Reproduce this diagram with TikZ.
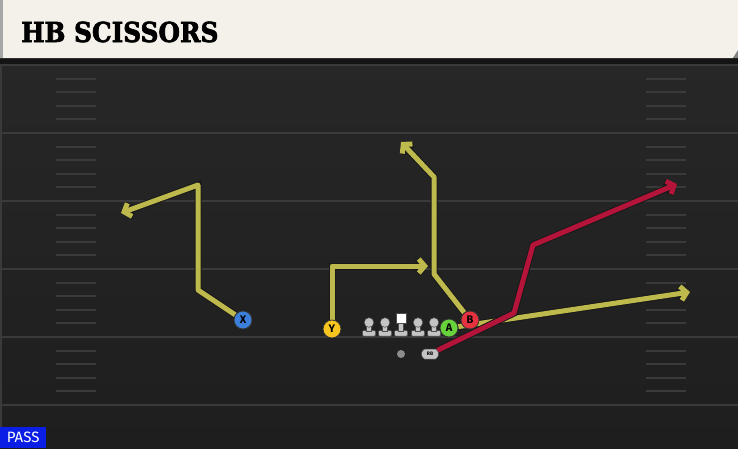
\documentclass[tikz,border=0pt]{standalone}
\usepackage{fontspec}
\setmainfont{Fira Sans}
\newfontfamily\titlefont{DejaVu Serif}[BoldFeatures={FakeBold=2.5}]
\usetikzlibrary{arrows.meta, shapes.misc}
\definecolor{fieldtop}{HTML}{272727}
\definecolor{fieldbot}{HTML}{1E1E1E}
\definecolor{yardline}{HTML}{3A3A3A}
\definecolor{paper}{HTML}{F4F1EA}
\definecolor{routeyellow}{HTML}{BEB94C}
\definecolor{routered}{HTML}{B4143A}
\definecolor{xblue}{HTML}{3C7FDA}
\definecolor{yyellow}{HTML}{F6C51F}
\definecolor{agreen}{HTML}{68D23C}
\definecolor{bred}{HTML}{E6323E}
\definecolor{linegrey}{HTML}{C4C4C4}
\definecolor{passblue}{HTML}{0A1EE6}
\pgfdeclarelayer{bg}
\pgfdeclarelayer{routes}
\pgfsetlayers{bg,routes,main}

\begin{document}
\begin{tikzpicture}[x=1pt, y=-1pt,
		player/.style = {circle, draw=black!80, line width=0.8pt, minimum size=18pt, inner sep=0pt, font=\bfseries\fontsize{11}{11}\selectfont},
		route/.style = {line width=5pt, line join=round, -{Straight Barb[length=6pt, width=14pt]},
			preaction = {draw=black!90, line width=7pt, -{Straight Barb[length=6pt, width=14pt]}}},
	]
			\def\xMIN{0};
			\def\xMAX{738};
			\def\yMIN{0};
			\def\yMAX{448};

			\useasboundingbox (\xMIN,\yMIN) rectangle (\xMAX,\yMAX);

			% field
			\begin{pgfonlayer}{bg}
				\shade[top color=fieldtop, bottom color=fieldbot] (\xMIN,60) rectangle (\xMAX,\yMAX);
				\fill[yardline] (\xMIN,60) rectangle (2,\yMAX);
				\foreach \i in {0,...,5}
					\draw[yardline, line width=2pt] (2,65+68*\i) -- (\xMAX,65+68*\i);
				\foreach \i in {0,...,4} {
					\foreach \k in {1,...,4} {
						\draw[yardline, line width=2pt] (56,65+68*\i+13.6*\k) -- (96,65+68*\i+13.6*\k);
						\draw[yardline, line width=2pt] (646,65+68*\i+13.6*\k) -- (686,65+68*\i+13.6*\k);
					}
				}

				% title bar
				\fill[black!92] (\xMIN,57) rectangle (\xMAX,64);
				\fill[paper] (\xMIN,0) -- (\xMAX,0) -- (\xMAX,50) -- (733,58) -- (\xMIN,58) -- cycle;
				\fill[black!35] (\xMIN,0) rectangle (3,58);
				\fill[black!50] (\xMAX,50) -- (\xMAX,58) -- (733,58) -- cycle;
			\end{pgfonlayer}

			\node[anchor=base west, inner sep=0pt, xscale=0.9, font=\titlefont\bfseries\fontsize{27.5}{27.5}\selectfont] (title) at (21,42) {HB SCISSORS};
			\node[fill=passblue, text=white, anchor=south west, minimum width=46pt, minimum height=21pt, inner sep=0pt, font=\fontsize{15}{15}\selectfont] (pass) at (\xMIN,\yMAX) {PASS};

			% line
			\begin{scope}[fill=linegrey, draw=black!70, line width=0.5pt]
				\foreach \x in {369,385,418,434} {
					\filldraw[rounded corners=1pt] (\x-6.5,330.5) rectangle (\x+6.5,336);
					\filldraw (\x-2.5,323) rectangle (\x+2.5,331);
					\filldraw (\x,322.5) circle (4.8pt);
				}
				\filldraw[rounded corners=1pt] (394.5,330.5) rectangle (407.5,336);
				\filldraw (398.5,322) rectangle (403.5,331);
				\filldraw[fill=white] (396,313) rectangle (406,323);
			\end{scope}

			% players
			\node[player, fill=xblue] (X) at (243,320) {X};
			\node[player, fill=yyellow] (Y) at (332,329) {Y};
			\node[player, fill=agreen] (A) at (449,328) {A};
			\node[player, fill=bred] (B) at (470,320) {B};
			\node[circle, fill=black!45, minimum size=8pt, inner sep=0pt] (QB) at (401,354) {};
			\node[rounded rectangle, rounded rectangle arc length=120, fill=linegrey, draw=black!70, line width=0.5pt, minimum width=17pt, minimum height=10pt, inner sep=0pt, font=\bfseries\fontsize{5}{5}\selectfont] (RB) at (430,354) {RB};

			% routes
			\coordinate (x1) at (198,290);
			\coordinate (x2) at (198,185);
			\coordinate (x3) at (121,213);
			\coordinate (y1) at (332,266);
			\coordinate (y2) at (428,266);
			\coordinate (b1) at (434,274);
			\coordinate (b2) at (434,177);
			\coordinate (b3) at (401,142);
			\coordinate (a1) at (690,292);
			\coordinate (r1) at (514,313);
			\coordinate (r2) at (533,245);
			\coordinate (r3) at (677,184);

			\begin{pgfonlayer}{routes}
				\draw[route, routeyellow] (X) -- (x1) -- (x2) -- (x3);
				\draw[route, routeyellow] (Y) -- (y1) -- (y2);
				\draw[route, routeyellow] (B) -- (b1) -- (b2) -- (b3);
				\draw[route, routeyellow] (A) -- (a1);
				\draw[route, routered] (RB) -- (r1) -- (r2) -- (r3);
			\end{pgfonlayer}
		\end{tikzpicture}
\end{document}
